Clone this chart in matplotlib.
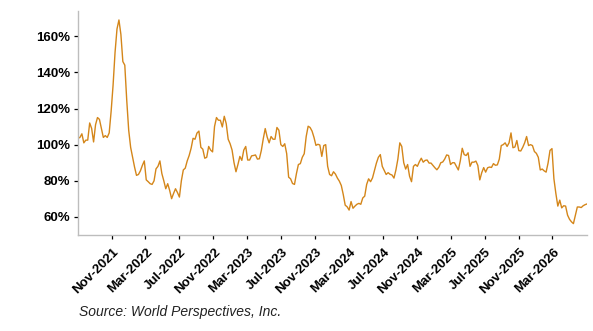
import matplotlib
matplotlib.use("Agg")
import matplotlib.pyplot as plt
import matplotlib.ticker as mticker
import matplotlib.transforms as mtransforms
import pandas as pd

plt.rcParams['font.family'] = ['Liberation Sans', 'DejaVu Sans']

start_date = "2021-07-03"
values = [
    103.5, 104, 106, 101, 102.5, 102.5, 112, 109, 101.5, 111,
    115, 114, 109, 104, 105, 104, 106.5, 118.5, 133, 151,
    164, 169, 161, 146, 144, 124.5, 108, 98.5, 93, 87.6,
    83, 83.5, 85.5, 88.5, 91, 80.5, 79.5, 78.4, 78, 80,
    86.6, 88, 91, 84, 80, 75.6, 78.4, 74.7, 70.1, 73,
    75.6, 73.5, 71, 80, 86, 87, 91, 94, 98, 103.5,
    103, 106.4, 107.5, 98.5, 97.5, 92.5, 93, 99, 97, 96,
    110, 115, 113.5, 113.5, 109.8, 115.7, 111.6, 103, 100.5, 97,
    90, 85, 89, 93.5, 91.3, 97, 99, 91.5, 91.5, 93.8,
    94, 94.3, 92, 92.2, 96.8, 103.3, 108.9, 104.2, 101, 104.5,
    103, 103, 109.5, 108, 100, 99, 100.5, 95, 82, 81.1,
    78.5, 78, 84, 89, 89.5, 93, 95, 104.5, 110.2, 109.5,
    107.5, 104, 99.6, 100.2, 99.8, 93.5, 99.5, 100, 88, 83.5,
    82.8, 85, 83.7, 81.5, 79.8, 77.4, 72.4, 66.5, 65.6, 63.8,
    68.5, 64.8, 66, 67, 67.5, 67, 70.5, 71.5, 78, 81.1,
    79.5, 81.6, 85.8, 89.8, 93, 94.5, 88, 85.7, 83.5, 84.5,
    83.6, 83.2, 81.5, 86, 92, 101, 99, 90, 86.5, 89,
    82.5, 79.5, 88, 89, 88, 90.5, 92.5, 90.3, 91.3, 91.5,
    89.8, 89.8, 88.5, 87.2, 86.1, 87.5, 90, 90.4, 92, 94.3,
    94, 89, 90, 90, 88, 86, 91, 98, 94.5, 94,
    95.5, 88, 90.3, 90.3, 90.9, 88.5, 80.5, 84.5, 87.3, 84.8,
    87.2, 87.6, 87.4, 89.5, 88.6, 88.8, 92, 99.5, 100, 101,
    99, 101, 106.5, 98.3, 98.7, 102.3, 96.7, 96.5, 98.5, 101,
    104.5, 99.5, 100, 99.5, 96.2, 95.2, 93, 86, 86.5, 85.5,
    84.8, 89.8, 96.8, 97.8, 81.1, 73, 66, 69.3, 65, 66.2,
    66, 61, 58.7, 57.3, 56.3, 61, 65.5, 65.5, 65.2, 66.2,
    66.8, 67.2,
]
tick_dates = ["2021-11-01", "2022-03-01", "2022-07-01", "2022-11-01",
              "2023-03-01", "2023-07-01", "2023-11-01", "2024-03-01",
              "2024-07-01", "2024-11-01", "2025-03-01", "2025-07-01",
              "2025-11-01", "2026-03-01"]
tick_labels = ["Nov-2021", "Mar-2022", "Jul-2022", "Nov-2022", "Mar-2023",
               "Jul-2023", "Nov-2023", "Mar-2024", "Jul-2024", "Nov-2024",
               "Mar-2025", "Jul-2025", "Nov-2025", "Mar-2026"]
y_ticks = [60, 80, 100, 120, 140, 160]
source_text = "Source: World Perspectives, Inc."

dates = pd.date_range(start_date, periods=len(values), freq="7D")

fig = plt.figure(figsize=(5.93, 3.31), dpi=100)
ax = fig.add_axes([0.1315, 0.29, 0.8585, 0.677])
ax.plot(dates, values, color="#D4861A", lw=1.0)

ax.set_xlim(pd.Timestamp("2021-07-03"), pd.Timestamp("2026-07-04"))
ax.set_ylim(50, 174)
ax.set_yticks(y_ticks)
ax.yaxis.set_major_formatter(mticker.FuncFormatter(lambda v, p: f"{int(v)}%"))
ax.set_xticks(pd.to_datetime(tick_dates))
ax.set_xticklabels(tick_labels, rotation=45, ha="right", va="center",
                   rotation_mode="anchor")

for s in ["top", "right"]:
    ax.spines[s].set_visible(False)
for s in ["left", "bottom"]:
    ax.spines[s].set_color("#BDBDBD")
    ax.spines[s].set_linewidth(1.0)

ax.tick_params(axis="both", direction="out", length=3, width=0.9, color="black",
               labelsize=9.5, pad=2.5)
ax.tick_params(axis="x", pad=6)
offset = mtransforms.ScaledTranslation(5 / 100, -3 / 100, fig.dpi_scale_trans)
for lab in ax.get_xticklabels():
    lab.set_fontweight("bold")
    lab.set_transform(lab.get_transform() + offset)
for lab in ax.get_yticklabels():
    lab.set_fontweight("bold")

fig.text(79 / 593, 1 - 312 / 331, source_text, fontsize=10, style="italic",
         color="#222222", ha="left", va="center")

fig.savefig("out.png", dpi=100)
